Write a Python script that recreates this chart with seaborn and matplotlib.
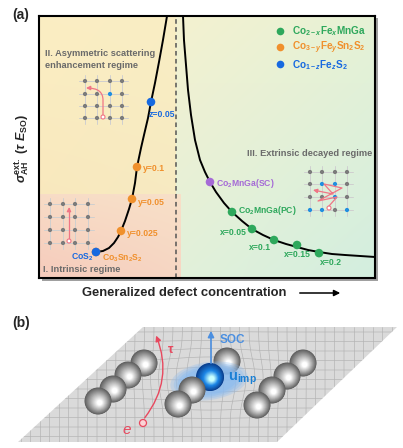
import numpy as np
import pandas as pd
import seaborn as sns
import matplotlib.pyplot as plt
from matplotlib.patches import Rectangle, Polygon, Circle, Ellipse, FancyArrowPatch
from matplotlib.path import Path
from matplotlib.lines import Line2D
from matplotlib.colors import to_rgb

sns.set_style('white')
plt.rcParams['font.family'] = ['Liberation Sans', 'DejaVu Sans']
plt.rcParams['font.weight'] = 'bold'
plt.rcParams['mathtext.fontset'] = 'custom'
plt.rcParams['mathtext.rm'] = 'Liberation Sans:bold'
plt.rcParams['mathtext.it'] = 'Liberation Sans:italic:bold'
plt.rcParams['mathtext.bf'] = 'Liberation Sans:bold'

# ---- panel (a) data, arbitrary units (0-10 on both axes) ----
left_curve_x = [1.696, 1.905, 2.083, 2.232, 2.351, 2.440, 2.560, 2.679, 2.768, 2.857,
                2.917, 3.036, 3.125, 3.244, 3.333, 3.452, 3.571, 3.690, 3.810]
left_curve_y = [0.992, 1.031, 1.145, 1.336, 1.565, 1.794, 2.176, 2.634, 3.015, 3.626,
                4.237, 4.962, 5.458, 6.107, 6.718, 7.443, 8.244, 9.084, 10.0]
right_curve_x = [4.286, 4.315, 4.375, 4.435, 4.524, 4.643, 4.792, 4.940, 5.089, 5.268,
                 5.506, 5.744, 6.042, 6.339, 6.667, 6.994, 7.351, 7.679, 8.006, 8.333,
                 8.720, 9.107, 9.554, 10.0]
right_curve_y = [10.0, 9.084, 8.130, 7.176, 6.221, 5.267, 4.504, 4.046, 3.664, 3.282,
                 2.863, 2.519, 2.176, 1.870, 1.641, 1.450, 1.298, 1.183, 1.069, 0.992,
                 0.916, 0.878, 0.840, 0.802]
boundary_x = 4.077

co2mnga_x = [5.744, 6.339, 6.994, 7.679, 8.333]
co2mnga_y = [2.519, 1.870, 1.450, 1.260, 0.950]
co2mnga_lab = ['Co$_2$MnGa(PC)', 'x=0.05', 'x=0.1', 'x=0.15', 'x=0.2']
sc_x = [5.089]
sc_y = [3.664]
sc_lab = ['Co$_2$MnGa(SC)']
cosnS_x = [1.696, 2.440, 2.768, 2.917]
cosnS_y = [0.992, 1.794, 3.015, 4.237]
cosnS_lab = ['Co$_3$Sn$_2$S$_2$', 'y=0.025', 'y=0.05', 'y=0.1']
cos2_x = [1.696, 3.333]
cos2_y = [0.992, 6.718]
cos2_lab = ['CoS$_2$', 'z=0.05']

series_names = ['Co$_{2-x}$Fe$_x$MnGa', 'Co$_{3-y}$Fe$_y$Sn$_2$S$_2$', 'Co$_{1-z}$Fe$_z$S$_2$']
GREEN, ORANGE, BLUE, PURPLE = '#2ea85c', '#f0902c', '#1769e0', '#a56ad6'

pts = pd.DataFrame({
    'x': co2mnga_x + sc_x + cosnS_x + cos2_x,
    'y': co2mnga_y + sc_y + cosnS_y + cos2_y,
    'label': co2mnga_lab + sc_lab + cosnS_lab + cos2_lab,
    'series': ['green'] * 5 + ['purple'] + ['orange'] * 4 + ['blue'] * 2,
})
pal = {'green': GREEN, 'purple': PURPLE, 'orange': ORANGE, 'blue': BLUE}

# label offsets in pixels (dx, dy up) and alignment
lab_pos = {
    'Co$_2$MnGa(PC)': (6, 2, 'left'), 'x=0.05': (-5, -3, 'right'), 'x=0.1': (-3, -7, 'right'),
    'x=0.15': (0, -10, 'center'), 'x=0.2': (1, -9, 'left'), 'Co$_2$MnGa(SC)': (6, -1, 'left'),
    'Co$_3$Sn$_2$S$_2$': (6, -6, 'left'), 'y=0.025': (6, -3, 'left'), 'y=0.05': (6, -3, 'left'),
    'y=0.1': (6, -2, 'left'), 'CoS$_2$': (-3, -5, 'right'), 'z=0.05': (-2, -13, 'left'),
}

fig = plt.figure(figsize=(4.03, 4.48), dpi=100)
W, H = 403, 448
ax = fig.add_axes([39 / W, 1 - 278 / H, 336 / W, 262 / H])
ax.set_xlim(0, 10)
ax.set_ylim(0, 10)

# frame shadow
fig.add_artist(Rectangle((41.5 / W, 1 - 280.5 / H), 336 / W, 262 / H, transform=fig.transFigure,
                         facecolor='#a0a0a0', edgecolor='none', zorder=-1))


def grad(c_tl, c_tr, c_bl, c_br, n=60):
    a, b, c, d = [np.array(to_rgb(k)) for k in (c_tl, c_tr, c_bl, c_br)]
    u = np.linspace(0, 1, n)[None, :, None]
    v = np.linspace(0, 1, n)[:, None, None]
    return (1 - v) * ((1 - u) * a + u * b) + v * ((1 - u) * c + u * d)


ax.imshow(grad('#fbeec3', '#f9eec4', '#f8e6bb', '#f6e8c0'), extent=[0, boundary_x, 0, 10],
          aspect='auto', zorder=0, interpolation='bilinear')
ax.imshow(grad('#f4f1d0', '#e6f2d6', '#e2f1da', '#d3eedf'), extent=[boundary_x, 10, 0, 10],
          aspect='auto', zorder=0, interpolation='bilinear')
ax.imshow(grad('#f8dcc6', '#f7e0c8', '#f6cbbc', '#f7d6c3'), extent=[0, 4.2, 0, 3.17],
          aspect='auto', zorder=0.5, interpolation='bilinear')

ax.axvline(boundary_x, color='#555555', lw=1.1, ls=(0, (3, 2.2)), zorder=1)
sns.lineplot(x=left_curve_x, y=left_curve_y, sort=False, color='black', lw=1.4, ax=ax, zorder=2)
sns.lineplot(x=right_curve_x, y=right_curve_y, sort=False, color='black', lw=1.4, ax=ax, zorder=2)
sns.scatterplot(data=pts, x='x', y='y', hue='series', palette=pal, s=38, edgecolor='none',
                legend=False, ax=ax, zorder=3)

for _, r in pts.iterrows():
    dx, dy, ha = lab_pos[r['label']]
    ax.annotate(r['label'], (r['x'], r['y']), xytext=(dx, dy), textcoords='offset pixels',
                ha=ha, va='center', fontsize=6.2, color=pal[r['series']], fontweight='bold', zorder=4)

handles = [Line2D([], [], ls='', marker='o', ms=5.5, color=c, mec='none') for c in (GREEN, ORANGE, BLUE)]
ax.legend(handles, series_names, loc='upper right', bbox_to_anchor=(0.99, 0.99), frameon=False,
          fontsize=7.2, labelcolor=[GREEN, ORANGE, BLUE], handlelength=1.0, handletextpad=0.7,
          labelspacing=0.15, borderaxespad=0.2)

ax.set_xticks([])
ax.set_yticks([])
ax.set_xlabel('')
ax.set_ylabel('')
for s in ax.spines.values():
    s.set_linewidth(1.5)
    s.set_color('black')
    s.set_visible(True)

# ---- overlay in pixel coordinates for annotations and panel (b) ----
ov = fig.add_axes([0, 0, 1, 1], zorder=5)
ov.set_xlim(0, W)
ov.set_ylim(H, 0)
ov.axis('off')
ov.patch.set_alpha(0)

ov.text(12, 15, '(a)', fontsize=10, fontweight='bold', va='center')
ov.text(12, 323, '(b)', fontsize=10, fontweight='bold', va='center')
ov.text(22, 148, r'$\sigma^{\mathrm{ext.}}_{\mathrm{AH}}$ ($\tau$ $E_{\mathrm{SO}}$)', rotation=90,
        fontsize=9, ha='center', va='center')
ov.text(184, 293, 'Generalized defect concentration', fontsize=9.4, fontweight='bold',
        ha='center', va='center')
ov.annotate('', xy=(343, 293), xytext=(297, 293),
            arrowprops=dict(arrowstyle='-|>', color='black', lw=1.1, mutation_scale=9))

GREY_T = '#6a6a6a'
ov.text(45, 54, 'II. Asymmetric scattering', fontsize=6.7, color=GREY_T, va='center')
ov.text(45, 66, 'enhancement regime', fontsize=6.7, color=GREY_T, va='center')
ov.text(372, 153, 'III. Extrinsic decayed regime', fontsize=6.7, color=GREY_T, ha='right', va='center')
ov.text(43, 269, 'I. Intrinsic regime', fontsize=6.7, color=GREY_T, va='center')

DOT, LBLUE, LINE, RED = '#7b7b7b', '#1f8fe0', '#cfcfcf', '#f07585'


def lattice(xs, ys, blue=()):
    for x in xs:
        ov.plot([x, x], [ys[0] - 6, ys[-1] + 6], color=LINE, lw=0.7, zorder=1)
    for y in ys:
        ov.plot([xs[0] - 6, xs[-1] + 6], [y, y], color=LINE, lw=0.7, zorder=1)
    for i, y in enumerate(ys):
        for j, x in enumerate(xs):
            ov.add_patch(Circle((x, y), 2.1, color=LBLUE if (i, j) in blue else DOT, zorder=2, lw=0))


def red_path(verts, codes, start):
    ov.add_patch(FancyArrowPatch(path=Path(verts, codes), arrowstyle='-|>', mutation_scale=6,
                                 color=RED, lw=0.9, zorder=3))
    ov.add_patch(Circle(start, 2.0, facecolor='white', edgecolor=RED, lw=0.8, zorder=4))


# inset II
lattice([85, 97, 110, 122], [81, 94, 106, 118], blue={(1, 2)})
red_path([(103, 115), (103, 100), (103, 88), (86, 88)],
         [Path.MOVETO, Path.LINETO, Path.CURVE3, Path.CURVE3], (103, 117))
# inset I
lattice([50, 63, 75, 88], [204, 217, 230, 243])
red_path([(69, 239), (69, 207)], [Path.MOVETO, Path.LINETO], (69, 241))
# inset III
lattice([310, 322, 335, 347], [172, 184, 197, 210],
        blue={(1, 1), (1, 2), (2, 2), (3, 0), (3, 1), (3, 3)})
zig = [(329, 206), (337, 197), (318, 201), (342, 188), (324, 184), (333, 194), (313, 190)]
red_path(zig, [Path.MOVETO] + [Path.LINETO] * (len(zig) - 1), (329, 208))

# ---- panel (b) ----
plane = Polygon([(143, 327), (397, 327), (277, 442), (18, 442)], closed=True,
                facecolor='#dadada', edgecolor='none', zorder=1)
ov.add_patch(plane)
imp = np.array([210.0, 378.0])


def warp(px, py):
    dx, dy = px - imp[0], py - imp[1]
    r2 = dx ** 2 + (1.8 * dy) ** 2
    f = 1 + 0.35 * np.exp(-r2 / 1800.0)
    return imp[0] + dx * f, imp[1] + dy * f


tt = np.linspace(0, 1, 80)
for gx in np.arange(21, 398, 9.5):
    x, y = warp(np.full_like(tt, gx), 327 + 115 * tt)
    ln, = ov.plot(x, y, color='#b2b2b2', lw=0.45, zorder=2)
    ln.set_clip_path(plane)
for gy in np.arange(332, 442, 9.5):
    x, y = warp(18 + 380 * tt, np.full_like(tt, gy))
    ln, = ov.plot(x, y, color='#b2b2b2', lw=0.45, zorder=2)
    ln.set_clip_path(plane)


def sphere(cx, cy, r, dark, mid, light, z):
    n = 30
    cd, cm, cl = (np.array(to_rgb(c)) for c in (dark, mid, light))
    for k in range(n):
        t = k / (n - 1)
        col = cd + (cm - cd) * (t / 0.55) if t < 0.55 else cm + (cl - cm) * ((t - 0.55) / 0.45)
        rr = r * (1 - 0.82 * t)
        ov.add_patch(Circle((cx + 0.12 * r * t, cy + 0.12 * r * t), rr, color=np.clip(col, 0, 1),
                            lw=0, zorder=z))


G = ('#5e5e5e', '#b8b8b8', '#ffffff')
for i, (cx, cy) in enumerate([(144, 363), (128, 375), (113, 389), (98, 401)]):
    sphere(cx, cy, 13.5, *G, z=10 + i)
for i, (cx, cy) in enumerate([(303, 363), (287, 376), (272, 390), (257, 405)]):
    sphere(cx, cy, 13.5, *G, z=10 + i)
sphere(227, 361, 13.5, *G, z=10)
for k, a in enumerate([0.3, 0.35, 0.45, 0.55]):
    ov.add_patch(Ellipse((209, 381), 78 - 7 * k, 38 - 3.5 * k, angle=-8, color='#8dbcf0',
                         alpha=a, lw=0, zorder=15))
sphere(210, 377, 14, '#0a3d8c', '#1c86e6', '#c8ffff', z=16)
sphere(192, 390, 13.5, *G, z=17)
sphere(178, 404, 13.5, *G, z=18)

ov.add_patch(FancyArrowPatch((211, 366), (211, 328), arrowstyle='-|>', mutation_scale=9,
                             color='#4b8fe0', lw=1.2, zorder=20))
ov.text(220, 340, 'SOC', fontsize=8.5, color='#4b8fe0', fontweight='bold', va='center', zorder=20)
ov.text(228, 379, r'u$_{\mathrm{imp}}$', fontsize=10.5, color='#1a7fd4', fontweight='bold',
        va='center', zorder=20)
ov.add_patch(FancyArrowPatch((143, 420), (155, 333), connectionstyle='arc3,rad=0.3', arrowstyle='-|>',
                             mutation_scale=8, color='#e8485e', lw=1.0, zorder=20))
ov.add_patch(Circle((143, 423), 3.5, facecolor='#fbd3d6', edgecolor='#e8485e', lw=0.9, zorder=21))
ov.text(168, 350, '\u03c4', fontsize=9, color='#e8485e', fontweight='bold', va='center', zorder=20)
ov.text(127, 430, 'e', fontsize=11, color='#e8485e', style='italic', fontweight='normal',
        ha='center', va='center', zorder=20)

fig.savefig('out.png', dpi=100)
